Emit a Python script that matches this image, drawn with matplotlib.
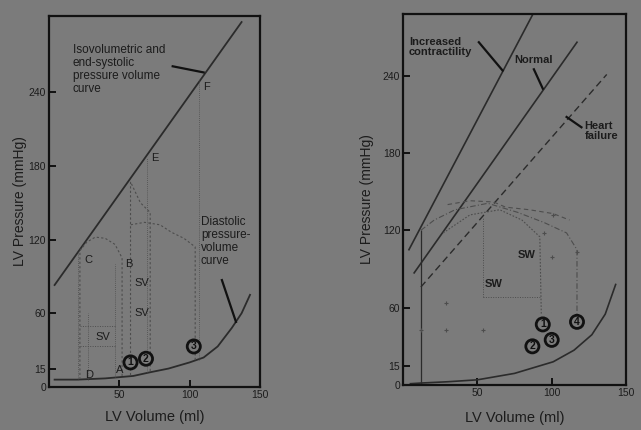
import matplotlib
matplotlib.use("Agg")
import matplotlib.pyplot as plt

BG = "#7b7b7b"
INK = "#1c1c1c"
LINE = "#2b2b2b"
FAINT = "#4d4d4d"

plt.rcParams["font.family"] = ["Liberation Sans", "DejaVu Sans"]

# ---- left panel data ----
espvr_v = [4, 137]
espvr_p = [83, 297]

diast_v = [4, 20, 40, 50, 60, 72, 85, 100, 110, 120, 130, 137, 143]
diast_p = [6, 6, 7, 8, 9, 12, 15, 20, 24, 33, 48, 60, 75]

loop1_v = [52, 52, 47, 40, 33, 27, 22, 22]
loop1_p = [9, 105, 116, 121, 122, 118, 111, 7]
loop2_v = [72, 72, 65, 58, 58]
loop2_p = [13, 142, 150, 167, 8]
loop3_v = [104, 104, 96, 87, 79, 68, 58]
loop3_p = [22, 114, 121, 126, 132, 134, 132]

iso_v = [21, 28, 47, 70, 107]
iso_top = [111, 60, 100, 186, 250]
iso_bot = [6, 6, 8, 12, 22]

sv_box_v = [22, 47]
sv_box_p = [33, 50]

circ_left = [("1", 58, 20), ("2", 69, 23), ("3", 103, 33)]

# ---- right panel data ----
inc_v = [4, 87]
inc_p = [105, 287]
norm_v = [7.5, 117]
norm_p = [87, 266]
hf_v = [12, 137]
hf_p = [76, 241]

diast2_v = [5, 12, 30, 50, 75, 101, 115, 127, 136, 143]
diast2_p = [1, 1.5, 2.5, 4, 9, 18, 27, 39, 55, 78]

arc1_v = [30, 45, 61, 69, 85, 101, 112]
arc1_p = [140, 143, 142, 138, 136, 133, 128]
arc2_v = [12, 21, 35, 57, 77, 95, 110, 117, 117]
arc2_p = [120, 128, 136, 141, 134, 126, 118, 105, 55]
arc3_v = [27, 45, 65, 80, 92, 93]
arc3_p = [118, 132, 136, 128, 115, 55]

sw_box_v = [54, 92]
sw_box_p = [68, 130]

dots_v = [29, 29, 54, 101, 95, 100, 117, 12]
dots_p = [64, 43, 43, 132, 118, 99, 103, 43]

circ_right = [("1", 94, 47), ("2", 87, 30), ("3", 100, 35), ("4", 117, 49)]


def style_axes(ax, ymax, yticks, ylab_x, xlab_y):
    ax.set_facecolor(BG)
    ax.set_xlim(0, 150)
    ax.set_ylim(0, ymax)
    for s in ax.spines.values():
        s.set_linewidth(1.6)
        s.set_color("#111111")
    ax.set_xticks([50, 100, 150])
    ax.set_xticklabels(["50", "100", "150"])
    ax.set_yticks(yticks)
    ax.set_yticklabels([str(t) for t in yticks])
    ax.tick_params(direction="in", length=5, width=1.4, colors="#111111",
                   labelsize=7.5, labelcolor=INK, pad=2)
    ax.set_xlabel("LV Volume (ml)", fontsize=10.5, color=INK)
    ax.set_ylabel("LV Pressure (mmHg)", fontsize=10, color=INK)
    ax.yaxis.set_label_coords(ylab_x, 0.5)
    ax.xaxis.set_label_coords(0.5, xlab_y)


def circled(ax, label, x, y):
    ax.text(x, y, label, ha="center", va="center", fontsize=7.5,
            fontweight="bold", color="#111111",
            bbox=dict(boxstyle="circle,pad=0.15", fc=BG, ec="#111111", lw=2.0))


fig = plt.figure(figsize=(6.41, 4.30), dpi=100)
fig.patch.set_facecolor(BG)

# ---------------- left ----------------
ax = fig.add_axes([0.0764, 0.100, 0.329, 0.863])
style_axes(ax, 302, [0, 15, 60, 120, 180, 240], -0.105, -0.063)

ax.plot(espvr_v, espvr_p, color=LINE, lw=1.3)
ax.plot(diast_v, diast_p, color=LINE, lw=1.3)
for lv, lp in [(loop1_v, loop1_p), (loop2_v, loop2_p), (loop3_v, loop3_p)]:
    ax.plot(lv, lp, color=FAINT, lw=0.8, ls=(0, (2, 2)))
ax.vlines(iso_v, iso_bot, iso_top, color=FAINT, lw=0.6, ls=(0, (1, 1.5)))
ax.hlines(sv_box_p, sv_box_v[0], sv_box_v[1], color=FAINT, lw=0.7, ls=(0, (1, 1.5)))

for t, x, y in [("F", 110, 244), ("E", 73, 186), ("C", 25, 103), ("B", 54, 100),
                ("D", 26, 10), ("A", 48, 14)]:
    ax.text(x, y, t, fontsize=8, color=INK, ha="left", va="center")
for x, y in [(38, 41), (66, 85), (66, 60)]:
    ax.text(x, y, "SV", fontsize=8, color=INK, ha="center", va="center")
for t, x, y in circ_left:
    circled(ax, t, x, y)

ax.text(17, 279, "Isovolumetric and\nend-systolic\npressure volume\ncurve",
        fontsize=8.5, color=INK, va="top", ha="left", linespacing=1.1)
ax.plot([88, 110], [261, 256], color="#111111", lw=1.6)
ax.text(108, 139, "Diastolic\npressure-\nvolume\ncurve", fontsize=8.5,
        color=INK, va="top", ha="left", linespacing=1.1)
ax.plot([123, 133], [87, 53], color="#111111", lw=1.6)

# ---------------- right ----------------
ax2 = fig.add_axes([0.6287, 0.1047, 0.348, 0.863])
style_axes(ax2, 288, [0, 15, 60, 120, 180, 240], -0.13, -0.07)

ax2.plot(inc_v, inc_p, color=LINE, lw=1.2)
ax2.plot(norm_v, norm_p, color=LINE, lw=1.2)
ax2.plot(hf_v, hf_p, color=LINE, lw=1.0, ls=(0, (5, 3)))
ax2.plot(diast2_v, diast2_p, color=LINE, lw=1.2)
ax2.vlines(12, 0, 120, color=LINE, lw=0.9)
ax2.plot(arc1_v, arc1_p, color=FAINT, lw=0.8, ls=(0, (4, 3)))
ax2.plot(arc2_v, arc2_p, color=FAINT, lw=0.8, ls=(0, (5, 2, 1, 2)))
ax2.plot(arc3_v, arc3_p, color=FAINT, lw=0.8, ls=(0, (1.5, 1.5)))
ax2.hlines(sw_box_p[0], sw_box_v[0], sw_box_v[1], color=FAINT, lw=0.7, ls=(0, (1, 1.5)))
ax2.vlines(sw_box_v[0], sw_box_p[0], sw_box_p[1], color=FAINT, lw=0.7, ls=(0, (1, 1.5)))
ax2.plot(dots_v, dots_p, ls="none", marker="+", ms=3, mew=0.8, color=FAINT)

ax2.text(83, 101, "SW", fontsize=8, color=INK, ha="center", va="center", fontweight="bold")
ax2.text(61, 78, "SW", fontsize=8, color=INK, ha="center", va="center", fontweight="bold")
for t, x, y in circ_right:
    circled(ax2, t, x, y)

ax2.text(4, 270, "Increased\ncontractility", fontsize=8, color=INK,
         va="top", ha="left", linespacing=1.05, fontweight="bold")
ax2.plot([51, 67], [266, 244], color="#111111", lw=1.6)
ax2.text(75, 252, "Normal", fontsize=8, color=INK, va="center", ha="left",
         fontweight="bold")
ax2.plot([88, 94], [245, 230], color="#111111", lw=1.6)
ax2.text(122, 197, "Heart\nfailure", fontsize=8, color=INK, va="center",
         ha="left", linespacing=1.05, fontweight="bold")
ax2.plot([110, 120], [208, 200], color="#111111", lw=1.6)

fig.savefig("out.png", dpi=100, facecolor=BG)
